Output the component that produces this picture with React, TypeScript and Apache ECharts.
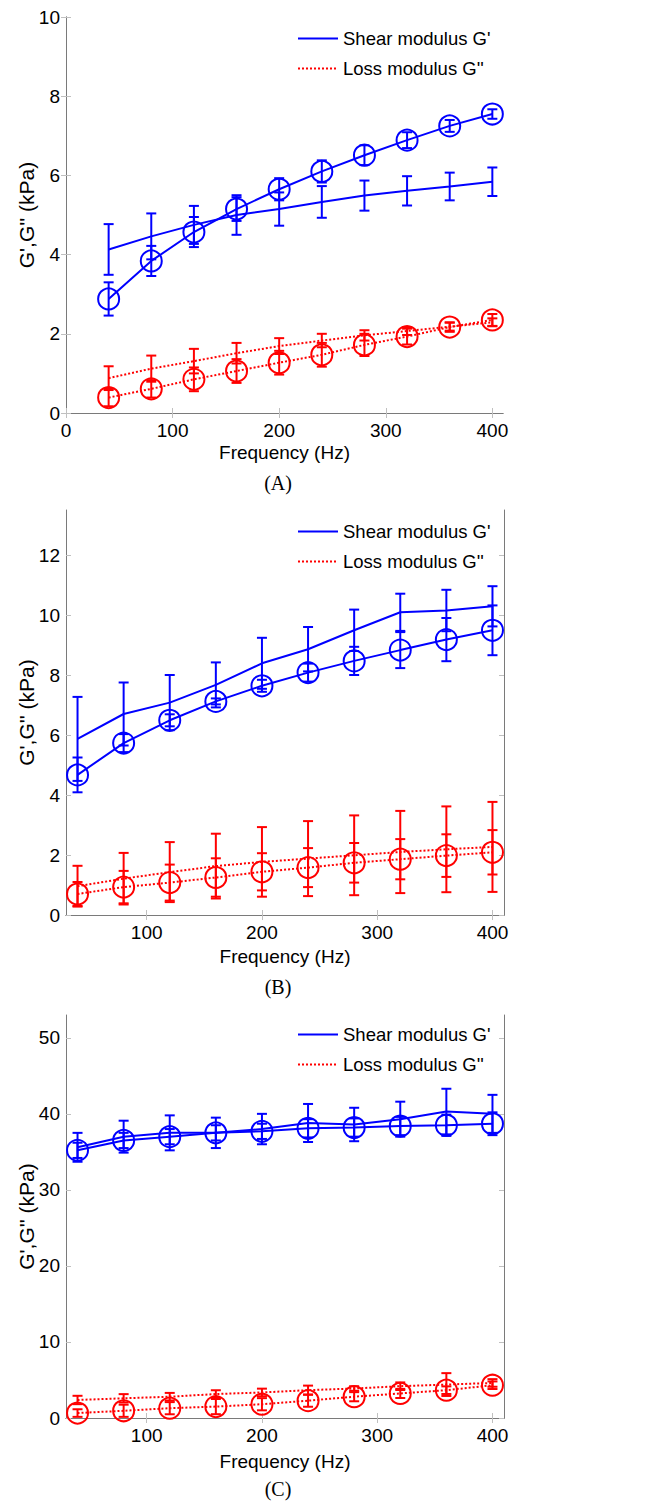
import React, { useEffect, useRef } from "react";
import * as echarts from "echarts";

// ---- data ----
const freq = [40, 80, 120, 160, 200, 240, 280, 320, 360, 400];

// Panel A
const aShearLine = [4.13, 4.46, 4.75, 5.0, 5.15, 5.33, 5.49, 5.61, 5.72, 5.84];
const aShearLineErr = [0.64, 0.58, 0.48, 0.5, 0.42, 0.4, 0.38, 0.37, 0.35, 0.36];
const aShearCirc = [2.88, 3.84, 4.57, 5.15, 5.65, 6.1, 6.51, 6.89, 7.25, 7.55];
const aShearCircErr = [0.42, 0.38, 0.38, 0.3, 0.28, 0.28, 0.25, 0.2, 0.15, 0.12];
const aLossLine = [0.88, 1.12, 1.31, 1.51, 1.69, 1.83, 1.96, 2.07, 2.18, 2.29];
const aLossLineErr = [0.3, 0.33, 0.31, 0.26, 0.2, 0.17, 0.13, 0.1, 0.1, 0.1];
const aLossCirc = [0.39, 0.61, 0.85, 1.06, 1.27, 1.47, 1.72, 1.93, 2.17, 2.35];
const aLossCircErr = [0.22, 0.22, 0.3, 0.3, 0.3, 0.3, 0.28, 0.2, 0.12, 0.15];

// Panel B
const bShearLine = [5.87, 6.7, 7.08, 7.67, 8.39, 8.86, 9.49, 10.09, 10.15, 10.29];
const bShearLineErr = [1.4, 1.05, 0.92, 0.75, 0.85, 0.74, 0.69, 0.62, 0.69, 0.67];
const bShearCirc = [4.67, 5.73, 6.49, 7.12, 7.64, 8.08, 8.47, 8.83, 9.18, 9.49];
const bShearCircErr = [0.58, 0.3, 0.2, 0.1, 0.2, 0.3, 0.47, 0.6, 0.72, 0.83];
const bLossLine = [0.96, 1.21, 1.43, 1.63, 1.77, 1.88, 1.99, 2.1, 2.19, 2.27];
const bLossLineErr = [0.68, 0.86, 1.0, 1.08, 1.16, 1.25, 1.33, 1.37, 1.43, 1.5];
const bLossCirc = [0.7, 0.93, 1.08, 1.25, 1.44, 1.58, 1.74, 1.86, 1.98, 2.09];
const bLossCircErr = [0.4, 0.54, 0.6, 0.64, 0.62, 0.65, 0.66, 0.67, 0.71, 0.74];

// Panel C
const cShearLine = [35.6, 37.0, 37.5, 37.5, 38.0, 38.8, 38.6, 39.3, 40.3, 40.0];
const cShearLineErr = [1.9, 2.1, 2.3, 2.0, 2.0, 2.5, 2.2, 2.3, 3.0, 2.5];
const cShearCirc = [35.2, 36.5, 37.0, 37.5, 37.7, 38.1, 38.2, 38.4, 38.5, 38.7];
const cShearCircErr = [1.0, 1.0, 1.0, 1.0, 1.0, 1.2, 1.2, 1.2, 1.4, 1.5];
const cLossLine = [2.37, 2.59, 2.8, 3.15, 3.36, 3.66, 3.88, 4.18, 4.4, 4.61];
const cLossLineErr = [0.55, 0.55, 0.5, 0.5, 0.5, 0.6, 0.3, 0.5, 1.5, 0.5];
const cLossCirc = [0.65, 0.95, 1.29, 1.5, 1.81, 2.28, 2.8, 3.23, 3.66, 4.31];
const cLossCircErr = [0.5, 0.8, 0.8, 1.0, 0.8, 0.8, 0.6, 0.6, 0.5, 0.5];

const xTicksA = [0, 100, 200, 300, 400];
const xTicksBC = [100, 200, 300, 400];
const yTicksA = [0, 2, 4, 6, 8, 10];
const yTicksB = [0, 2, 4, 6, 8, 10, 12];
const yTicksC = [0, 10, 20, 30, 40, 50];

const SHEAR = "Shear modulus G'";
const LOSS = "Loss modulus G''";
const panelLabels = ["(A)", "(B)", "(C)"];

const BLUE = "#0000ff";
const RED = "#ff0000";
const FONT = "Liberation Sans";

const panels = [
  {
    grid: { left: 66, top: 17, width: 437, height: 396 },
    xMin: 0, xMax: 410, xTicks: xTicksA, yMax: 10, yTicks: yTicksA,
    shearLine: aShearLine, shearLineErr: aShearLineErr, shearCirc: aShearCirc, shearCircErr: aShearCircErr,
    lossLine: aLossLine, lossLineErr: aLossLineErr, lossCirc: aLossCirc, lossCircErr: aLossCircErr,
    legendTop: 29, labelY: 483, nameGapX: 30,
  },
  {
    grid: { left: 66, top: 510, width: 438, height: 405 },
    xMin: 30, xMax: 410, xTicks: xTicksBC, yMax: 13.5, yTicks: yTicksB,
    shearLine: bShearLine, shearLineErr: bShearLineErr, shearCirc: bShearCirc, shearCircErr: bShearCircErr,
    lossLine: bLossLine, lossLineErr: bLossLineErr, lossCirc: bLossCirc, lossCircErr: bLossCircErr,
    legendTop: 522, labelY: 987, nameGapX: 32,
  },
  {
    grid: { left: 66, top: 1015, width: 438, height: 403 },
    xMin: 30, xMax: 410, xTicks: xTicksBC, yMax: 53, yTicks: yTicksC,
    shearLine: cShearLine, shearLineErr: cShearLineErr, shearCirc: cShearCirc, shearCircErr: cShearCircErr,
    lossLine: cLossLine, lossLineErr: cLossLineErr, lossCirc: cLossCirc, lossCircErr: cLossCircErr,
    legendTop: 1025, labelY: 1489, nameGapX: 34,
  },
];

function makeErrRender(color: string) {
  return (params: any, api: any) => {
    const x = api.value(0);
    const y = api.value(1);
    const e = api.value(2);
    const top = api.coord([x, y + e]);
    const bot = api.coord([x, y - e]);
    const hw = 5;
    const style = { stroke: color, lineWidth: 2 };
    return {
      type: "group",
      children: [
        { type: "line", shape: { x1: top[0], y1: top[1], x2: bot[0], y2: bot[1] }, style },
        { type: "line", shape: { x1: top[0] - hw, y1: top[1], x2: top[0] + hw, y2: top[1] }, style },
        { type: "line", shape: { x1: bot[0] - hw, y1: bot[1], x2: bot[0] + hw, y2: bot[1] }, style },
      ],
    };
  };
}

function buildOption() {
  const grid: any[] = [];
  const xAxis: any[] = [];
  const yAxis: any[] = [];
  const series: any[] = [];
  const legend: any[] = [];
  const graphic: any[] = [];

  panels.forEach((p, i) => {
    grid.push({ ...p.grid, containLabel: false });
    const axisLine = { show: true, lineStyle: { color: "#7a7a7a", width: 1 } };
    const tick = (vals: number[]) => ({
      show: true, inside: true, length: 5, customValues: vals,
      lineStyle: { color: "#c0c0c0", width: 1 },
    });
    xAxis.push({
      type: "value", gridIndex: i, position: "bottom", min: p.xMin, max: p.xMax,
      axisLine, axisTick: tick(p.xTicks), splitLine: { show: false },
      axisLabel: { customValues: p.xTicks, color: "#000", fontSize: 19, fontFamily: FONT, margin: 8 },
      name: "Frequency (Hz)", nameLocation: "middle", nameGap: p.nameGapX, nameMoveOverlap: false,
      nameTextStyle: { color: "#000", fontSize: 19, fontFamily: FONT, verticalAlign: "top" },
    });
    xAxis.push({
      type: "value", gridIndex: i, position: "top", min: p.xMin, max: p.xMax,
      axisLine, axisTick: tick(p.xTicks), splitLine: { show: false },
      axisLabel: { show: false },
    });
    yAxis.push({
      type: "value", gridIndex: i, position: "left", min: 0, max: p.yMax,
      axisLine, axisTick: tick(p.yTicks), splitLine: { show: false },
      axisLabel: { customValues: p.yTicks, color: "#000", fontSize: 19, fontFamily: FONT, margin: 6 },
      name: "G',G'' (kPa)", nameLocation: "middle", nameGap: 40, nameRotate: 90, nameMoveOverlap: false,
      nameTextStyle: { color: "#000", fontSize: 21, fontFamily: FONT, verticalAlign: "middle" },
    });
    yAxis.push({
      type: "value", gridIndex: i, position: "right", min: 0, max: p.yMax,
      axisLine, axisTick: tick(p.yTicks), splitLine: { show: false },
      axisLabel: { show: false },
    });

    const xi = 2 * i;
    const yi = 2 * i;
    const pts = (ys: number[]) => freq.map((f, k) => [f, ys[k]]);
    const errPts = (ys: number[], es: number[]) => freq.map((f, k) => [f, ys[k], es[k]]);
    const circleItem = (c: string) => ({ color: "rgba(0,0,0,0)", borderColor: c, borderWidth: 2 });

    const errs: [number[], number[], string][] = [
      [p.shearLine, p.shearLineErr, BLUE],
      [p.shearCirc, p.shearCircErr, BLUE],
      [p.lossLine, p.lossLineErr, RED],
      [p.lossCirc, p.lossCircErr, RED],
    ];
    errs.forEach(([ys, es, c], k) => {
      series.push({
        type: "custom", name: "err" + i + "_" + k, xAxisIndex: xi, yAxisIndex: yi,
        data: errPts(ys, es), renderItem: makeErrRender(c), silent: true,
        encode: { x: 0, y: 1 }, itemStyle: { color: c }, clip: false,
      });
    });

    series.push({
      type: "line", name: SHEAR, xAxisIndex: xi, yAxisIndex: yi, data: pts(p.shearLine),
      symbol: "none", lineStyle: { color: BLUE, width: 2, type: "solid" }, itemStyle: { color: BLUE }, silent: true,
    });
    series.push({
      type: "line", name: SHEAR + " fit", xAxisIndex: xi, yAxisIndex: yi, data: pts(p.shearCirc),
      symbol: "circle", symbolSize: 21, showSymbol: true,
      lineStyle: { color: BLUE, width: 2, type: "solid" }, itemStyle: circleItem(BLUE), silent: true,
    });
    series.push({
      type: "line", name: LOSS, xAxisIndex: xi, yAxisIndex: yi, data: pts(p.lossLine),
      symbol: "none", lineStyle: { color: RED, width: 2, type: "dotted" }, itemStyle: { color: RED }, silent: true,
    });
    series.push({
      type: "line", name: LOSS + " fit", xAxisIndex: xi, yAxisIndex: yi, data: pts(p.lossCirc),
      symbol: "circle", symbolSize: 21, showSymbol: true,
      lineStyle: { color: RED, width: 2, type: "dotted" }, itemStyle: circleItem(RED), silent: true,
    });

    legend.push({
      data: [SHEAR, LOSS], orient: "vertical", left: 297, top: p.legendTop, padding: 0,
      itemWidth: 40, itemHeight: 12, itemGap: 11, selectedMode: false,
      itemStyle: { opacity: 0 },
      textStyle: { color: "#000", fontSize: 18.5, fontFamily: FONT, lineHeight: 18 },
    });

    graphic.push({
      type: "text", x: 278, y: p.labelY,
      style: {
        text: panelLabels[i], fontSize: 20, fontFamily: "Liberation Serif",
        fill: "#000", align: "center", verticalAlign: "middle",
      },
    });
  });

  return { animation: false, backgroundColor: "#fff", grid, xAxis, yAxis, series, legend, graphic };
}

export default function App() {
  const ref = useRef<HTMLDivElement>(null);
  useEffect(() => {
    if (!ref.current) return;
    const chart = echarts.init(ref.current, undefined, { renderer: "svg" });
    chart.setOption(buildOption() as any);
    return () => chart.dispose();
  }, []);
  return (
    <div
      ref={ref}
      style={{ position: "absolute", left: 0, top: 0, width: 657, height: 1503, background: "#fff" }}
    />
  );
}
